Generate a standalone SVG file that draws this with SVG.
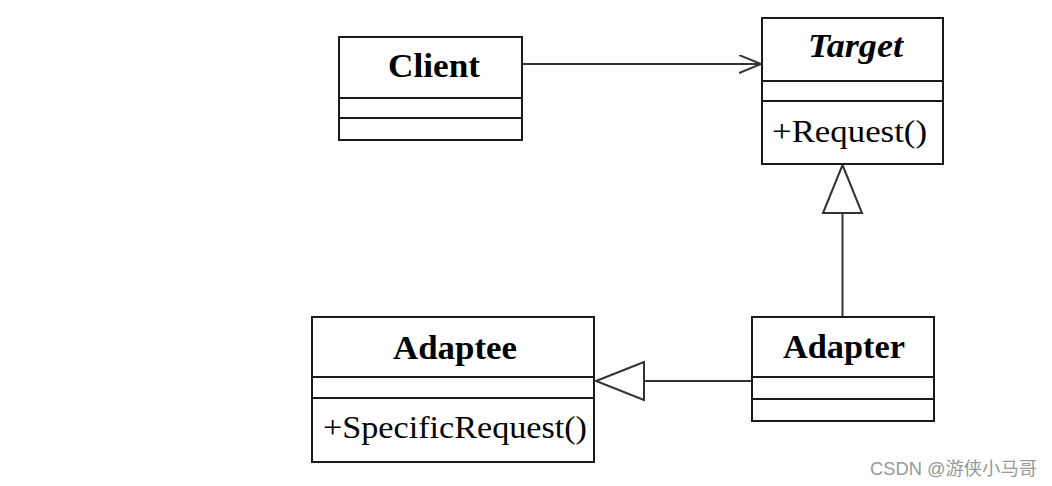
<svg xmlns="http://www.w3.org/2000/svg" width="1052" height="486" viewBox="0 0 1052 486">
<style>
.box{fill:#fff;stroke:#1a1a1a;stroke-width:2}
.div{stroke:#1a1a1a;stroke-width:2}
.title{font-family:"Liberation Serif","Times New Roman",serif;font-weight:bold;font-size:33px;fill:#000}
.op{font-family:"Liberation Serif","Times New Roman",serif;font-size:32px;fill:#000}
.conn{fill:none;stroke:#333;stroke-width:2}
.wm{font-family:"Liberation Sans","Noto Sans CJK SC",sans-serif;font-size:18px;fill:#999}
</style>
<defs>
<marker id="open" markerWidth="24" markerHeight="20" refX="22" refY="9" orient="auto" markerUnits="userSpaceOnUse">
<path d="M0,0 L22,9 L0,18" fill="none" stroke="#333" stroke-width="2"/>
</marker>
</defs>
<rect width="1052" height="486" fill="#fff"/>
<g id="connectors">
<line class="conn" x1="523" y1="64" x2="761" y2="64" marker-end="url(#open)"/>
<line class="conn" x1="842.5" y1="213" x2="842.5" y2="316"/>
<polygon class="conn" points="842.5,165 823,213 862,213" style="fill:#fff"/>
<line class="conn" x1="644" y1="381" x2="752" y2="381"/>
<polygon class="conn" points="596,381 644,362 644,400" style="fill:#fff"/>
</g>
<g id="client">
<rect class="box" x="339" y="37" width="183" height="103"/>
<line class="div" x1="339" y1="98" x2="522" y2="98"/>
<line class="div" x1="339" y1="118" x2="522" y2="118"/>
<text class="title" x="388" y="77" textLength="92" lengthAdjust="spacingAndGlyphs">Client</text>
</g>
<g id="target">
<rect class="box" x="762" y="18" width="181" height="146"/>
<line class="div" x1="762" y1="81" x2="943" y2="81"/>
<line class="div" x1="762" y1="101" x2="943" y2="101"/>
<text class="title" x="808" y="57" font-style="italic" textLength="95" lengthAdjust="spacingAndGlyphs">Target</text>
<text class="op" x="772" y="142" textLength="155" lengthAdjust="spacingAndGlyphs">+Request()</text>
</g>
<g id="adaptee">
<rect class="box" x="312" y="317" width="282" height="145"/>
<line class="div" x1="312" y1="377" x2="594" y2="377"/>
<line class="div" x1="312" y1="398" x2="594" y2="398"/>
<text class="title" x="393" y="359" textLength="124" lengthAdjust="spacingAndGlyphs">Adaptee</text>
<text class="op" x="323" y="438" textLength="264" lengthAdjust="spacingAndGlyphs">+SpecificRequest()</text>
</g>
<g id="adapter">
<rect class="box" x="752" y="317" width="182" height="104"/>
<line class="div" x1="752" y1="377" x2="934" y2="377"/>
<line class="div" x1="752" y1="399" x2="934" y2="399"/>
<text class="title" x="783" y="358" textLength="122" lengthAdjust="spacingAndGlyphs">Adapter</text>
</g>
<text class="wm" x="870" y="475" textLength="167" lengthAdjust="spacingAndGlyphs">CSDN @游侠小马哥</text>
</svg>
